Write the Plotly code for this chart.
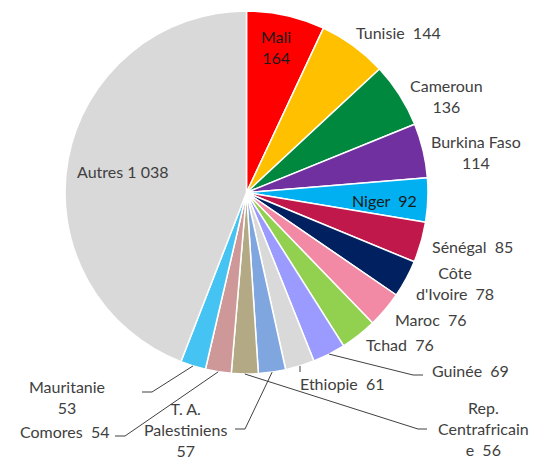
import math
import plotly.graph_objects as go

# ---- data ----
countries = ["Mali", "Tunisie", "Cameroun", "Burkina Faso", "Niger", "Sénégal",
             "Côte d'Ivoire", "Maroc", "Tchad", "Guinée", "Ethiopie",
             "T. A. Palestiniens", "Rep. Centrafricaine", "Comores", "Mauritanie", "Autres"]
values = [164, 144, 136, 114, 92, 85, 78, 76, 76, 69, 61, 57, 56, 54, 53, 1038]
label_texts = ["Mali<br>164", "Tunisie&nbsp; 144", "Cameroun<br>136", "Burkina Faso<br>114",
               "Niger&nbsp; 92", "Sénégal&nbsp; 85", "Côte<br>d'Ivoire&nbsp; 78", "Maroc&nbsp; 76",
               "Tchad&nbsp; 76", "Guinée&nbsp; 69", "Ethiopie&nbsp; 61", "T. A.<br>Palestiniens<br>57",
               "Rep.<br>Centrafricain<br>e&nbsp; 56", "Comores&nbsp; 54", "Mauritanie<br>53", "Autres 1 038"]
colors = ["#FF0000", "#FFC000", "#00883E", "#7030A0", "#00B0F0", "#C0184A",
          "#002060", "#F28AA6", "#92D050", "#9B9BFF", "#D9D9D9",
          "#7FA6DE", "#B3AA85", "#CE9898", "#45C3F3", "#D9D9D9"]

W, H = 540, 463
CX, CY, R = 246.5, 192.5, 181.5

def px(x):
    return x / W

def py(y):
    return 1 - y / H

fig = go.Figure(go.Pie(
    labels=countries, values=values, sort=False, direction="clockwise", rotation=0,
    marker=dict(colors=colors, line=dict(color="white", width=1.5)),
    textinfo="none", hoverinfo="label+value", showlegend=False,
    domain=dict(x=[px(CX - R), px(CX + R)], y=[py(CY + R), py(CY - R)]),
))

# label placements (pixel centres) and anchors
label_pos = {
    "Mali": (276, 47, "center"),
    "Tunisie": (398, 33, "center"),
    "Cameroun": (447, 96, "center"),
    "Burkina Faso": (476, 152, "center"),
    "Niger": (384, 200, "center"),
    "Sénégal": (472, 246, "center"),
    "Côte d'Ivoire": (455, 283, "center"),
    "Maroc": (431, 319, "center"),
    "Tchad": (400, 344, "center"),
    "Guinée": (470, 370, "center"),
    "Ethiopie": (342, 383, "center"),
    "T. A. Palestiniens": (185, 429, "center"),
    "Rep. Centrafricaine": (483, 428, "center"),
    "Comores": (111, 431, "right"),
    "Mauritanie": (67, 397, "center"),
    "Autres": (122, 172, "center"),
}
dark_labels = {"Mali", "Niger"}

annotations = []
for name, txt in zip(countries, label_texts):
    x, y, anc = label_pos[name]
    annotations.append(dict(
        x=px(x), y=py(y), xref="paper", yref="paper", text=txt, showarrow=False,
        xanchor=anc, yanchor="middle", align="center",
        font=dict(family="Lato, DejaVu Sans, sans-serif", size=16,
                  color="#1a1a1a" if name in dark_labels else "#404040"),
    ))

# leader lines: start at slice edge (mid angle), then through elbow points
leader_paths = {
    "Guinée": [(413, 375), (423, 375)],
    "Ethiopie": [(300, 372)],
    "T. A. Palestiniens": [(245, 429), (235, 429)],
    "Rep. Centrafricaine": [(418, 429), (427, 429)],
    "Comores": [(125, 436), (115, 436)],
    "Mauritanie": [(152, 392), (142, 392)],
}
total = sum(values)
cum = 0
starts = {}
for name, v in zip(countries, values):
    mid = (cum + v / 2) / total * 2 * math.pi
    starts[name] = (CX + R * math.sin(mid), CY - R * math.cos(mid))
    cum += v

shapes = []
for name, pts in leader_paths.items():
    path = [starts[name]] + pts
    for (x0, y0), (x1, y1) in zip(path[:-1], path[1:]):
        shapes.append(dict(type="line", xref="paper", yref="paper",
                           x0=px(x0), y0=py(y0), x1=px(x1), y1=py(y1),
                           line=dict(color="#404040", width=1)))

fig.update_layout(
    width=W, height=H, margin=dict(l=0, r=0, t=0, b=0),
    paper_bgcolor="white", plot_bgcolor="white",
    annotations=annotations, shapes=shapes,
)

fig.write_html("out.html", config={"displayModeBar": False},
               post_script="document.body.style.margin='0';")
